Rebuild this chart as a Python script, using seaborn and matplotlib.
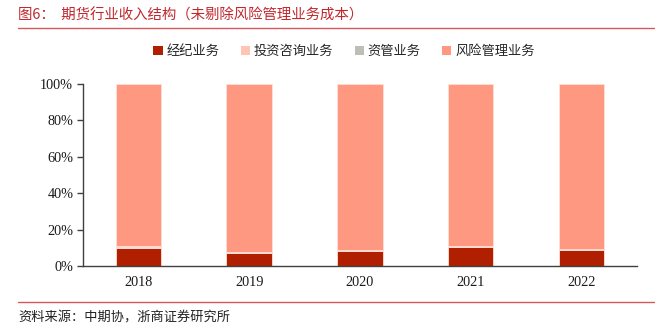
import matplotlib
matplotlib.use("Agg")
import matplotlib.pyplot as plt
from matplotlib.lines import Line2D
from matplotlib.patches import Patch
from matplotlib.ticker import PercentFormatter
import seaborn as sns
import pandas as pd

# Revenue share by business line (%)
years = ["2018", "2019", "2020", "2021", "2022"]
brokerage = [10.0, 7.0, 8.5, 10.6, 8.8]
consulting = [0.5, 0.3, 0.3, 0.4, 0.3]
asset_mgmt = [0.4, 0.2, 0.2, 0.2, 0.2]
risk_mgmt = [89.1, 92.5, 91.0, 88.8, 90.7]

series_names = ["经纪业务", "投资咨询业务", "资管业务", "风险管理业务"]
series_vals = [brokerage, consulting, asset_mgmt, risk_mgmt]
colors = ["#B02000", "#FFC4B4", "#BEBEB6", "#FF9880"]

sns.set_theme(style="white")
plt.rcParams["font.family"] = ["Liberation Serif", "Noto Sans CJK SC", "DejaVu Sans"]
cjk = ["Noto Sans CJK SC", "DejaVu Sans"]

fig = plt.figure(figsize=(6.64, 3.34), dpi=100)
ax = fig.add_axes([0.125, 0.2036, 0.834, 0.545])

bottom = [0.0] * len(years)
for name, vals, col in zip(series_names, series_vals, colors):
    df = pd.DataFrame({"year": years, "share": vals})
    sns.barplot(data=df, x="year", y="share", color=col, width=0.41,
                bottom=bottom, edgecolor="#FFE0D8", linewidth=0.6,
                saturation=1, ax=ax, errorbar=None)
    bottom = [b + v for b, v in zip(bottom, vals)]

ax.set_xlim(-0.5, len(years) - 0.5)
ax.set_ylim(0, 100)
ax.set_yticks([0, 20, 40, 60, 80, 100])
ax.yaxis.set_major_formatter(PercentFormatter(decimals=0))
ax.set_xlabel("")
ax.set_ylabel("")

for s in ["top", "right"]:
    ax.spines[s].set_visible(False)
for s in ["left", "bottom"]:
    ax.spines[s].set_color("#404040")
    ax.spines[s].set_linewidth(1.0)

ax.set_xticks([i - 0.5 for i in range(len(years) + 1)], minor=True)
ax.tick_params(axis="x", which="major", length=0, pad=7, labelsize=10.3, colors="#1a1a1a")
ax.tick_params(axis="x", which="minor", length=4, width=1.0, color="#404040", direction="out")
ax.tick_params(axis="y", which="major", length=4, width=1.0, color="#404040",
               direction="out", left=True, labelsize=10.3, colors="#1a1a1a", pad=3)

handles = [Patch(facecolor=c, edgecolor="none") for c in colors]
fig.legend(handles, series_names, loc="center", bbox_to_anchor=(0.518, 0.845),
           ncol=4, frameon=False, prop={"family": cjk, "size": 9.5},
           handlelength=0.7, handleheight=0.7, handletextpad=0.3, columnspacing=1.6)

fig.text(0.027, 0.955, "图6：  期货行业收入结构（未剔除风险管理业务成本）", family=cjk,
         fontsize=10.4, color="#C0282E", va="center", ha="left")
fig.add_artist(Line2D([0.027, 0.985], [0.915, 0.915], color="#D8575C", linewidth=1.0))
fig.add_artist(Line2D([0.027, 0.985], [0.096, 0.096], color="#D8575C", linewidth=1.0))
fig.text(0.027, 0.048, "资料来源：中期协，浙商证券研究所", family=cjk,
         fontsize=9.5, color="#222222", va="center", ha="left")

fig.savefig("out.png", dpi=100)
